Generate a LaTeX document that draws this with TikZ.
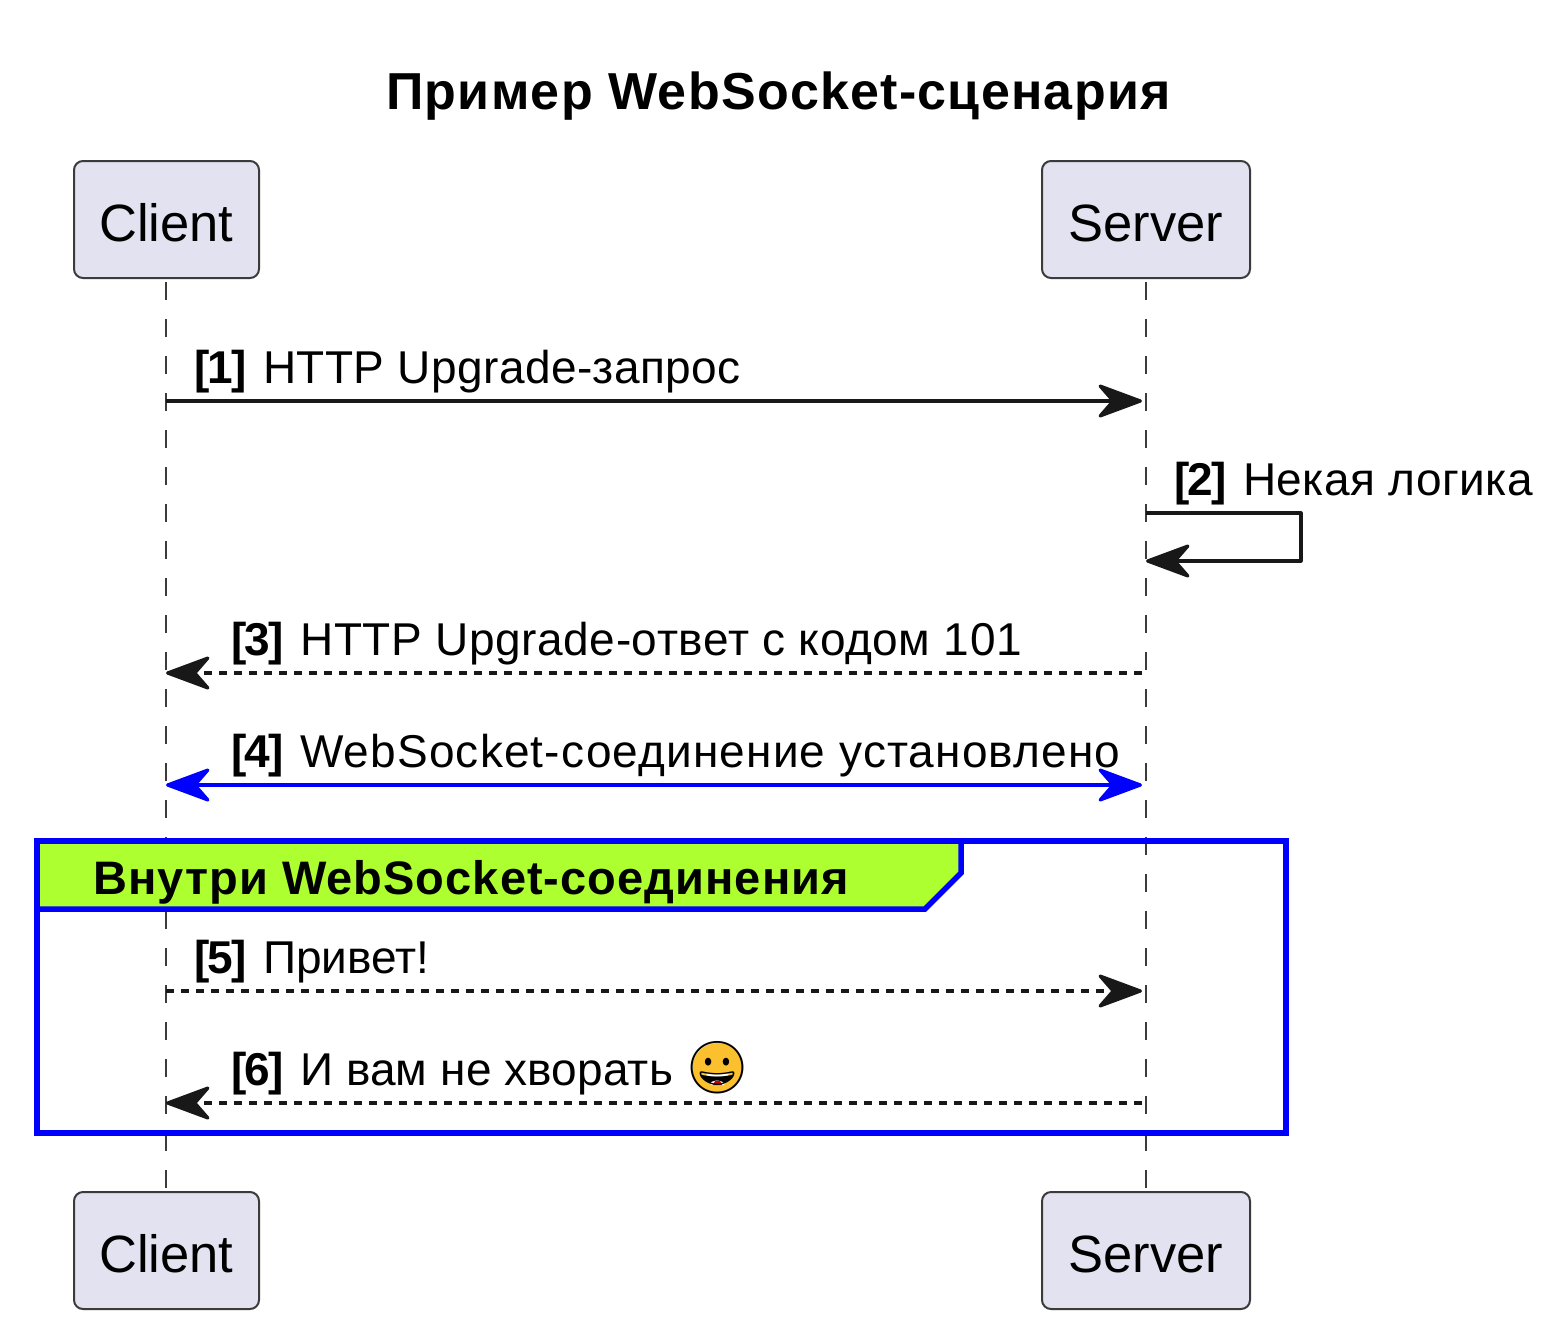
\documentclass[tikz,border=0pt]{standalone}
\usepackage{fontspec}
\setmainfont{Liberation Sans}
\newfontfamily\emojifont{Noto Emoji}
\usetikzlibrary{arrows.meta, positioning}

\definecolor{actorfill}{HTML}{E2E2F0}
\definecolor{actorline}{HTML}{181818}
\definecolor{groupfill}{HTML}{ADFF2F}
\definecolor{smileyfill}{HTML}{FBC02D}

\newcommand{\msgno}[1]{\makebox[69pt][l]{\bfseries\addfontfeature{LetterSpace=-3.5}[#1]}}

\tikzset{
  actor/.style={draw=actorline!85,fill=actorfill,line width=2pt,rounded corners=9pt,
    minimum height=117pt,inner sep=0pt,text height=43pt,text depth=0pt,
    font=\fontsize{52.5}{60}\selectfont},
  lifeline/.style={draw=actorline!85,line width=1.8pt,dash pattern=on 18pt off 19pt},
  msgtext/.style={anchor=base west,inner sep=0pt,font=\fontsize{46}{55}\selectfont},
  msg/.style={draw=actorline,line width=3.2pt},
  tipend/.style={-{Stealth[length=50pt,width=37pt,inset=16pt,round]}},
  dashmsg/.style={dash pattern=on 8pt off 7pt},
  groupline/.style={draw=blue,line width=5.5pt}
}

\begin{document}
\begin{tikzpicture}[x=1pt,y=-1pt]
  \useasboundingbox (0,0) rectangle (1560,1330);

  \node [anchor=base,font=\bfseries\fontsize{52}{60}\selectfont\addfontfeature{LetterSpace=2.4}] (title) at (778.5,109) {Пример WebSocket-сценария};

  % participants
  \node [actor,minimum width=185pt] (client)  at (166.5,219.5)  {Client};
  \node [actor,minimum width=208pt] (server)  at (1146,219.5)   {Server};
  \node [actor,minimum width=185pt] (clientb) at (166.5,1250.5) {Client};
  \node [actor,minimum width=208pt] (serverb) at (1146,1250.5)  {Server};

  \coordinate (cl0) at (166,282);
  \coordinate (cl1) at (166,1188);
  \coordinate (sv0) at (1146,282);
  \coordinate (sv1) at (1146,1188);

  \draw [lifeline] (cl0) -- (cl1);
  \draw [lifeline] (sv0) -- (sv1);

  % ends of the messages
  \coordinate (c1) at (166,401);
  \coordinate (s1) at (1142,401);
  \coordinate (s2a) at (1146,513);
  \coordinate (s2b) at (1301,513);
  \coordinate (s2c) at (1301,561);
  \coordinate (s2d) at (1146,561);
  \coordinate (c3) at (166,673);
  \coordinate (s3) at (1142,673);
  \coordinate (c4) at (166,785);
  \coordinate (s4) at (1142,785);
  \coordinate (c5) at (166,991);
  \coordinate (s5) at (1142,991);
  \coordinate (c6) at (166,1103);
  \coordinate (s6) at (1142,1103);

  % group
  \coordinate (gr0) at (37,841);
  \coordinate (gr1) at (1286,1133);
  \draw [groupline,fill=groupfill,line join=miter]
    (37,841) -- (961,841) -- (961,873) -- (925,909) -- (37,909) -- cycle;
  \draw [groupline] (gr0) rectangle (gr1);
  \node [msgtext,font=\bfseries\fontsize{47}{55}\selectfont\addfontfeature{LetterSpace=2.2}] (grouptext) at (93,894) {Внутри WebSocket-соединения};

  % messages
  \draw [msg,tipend] (c1) -- (s1);
  \draw [msg,line join=round,tipend] (s2a) -- (s2b) -- (s2c) -- (s2d);
  \draw [msg,dashmsg,tipend] (s3) -- (c3);
  \draw [msg,draw=blue,fill=blue,{Stealth[length=50pt,width=37pt,inset=16pt,round]}-{Stealth[length=50pt,width=37pt,inset=16pt,round]}] (c4) -- (s4);
  \draw [msg,dashmsg,tipend] (c5) -- (s5);
  \draw [msg,dashmsg,tipend] (s6) -- (c6);

  % labels
  \node [msgtext] (m1) at (194,383)  {\msgno{1}\addfontfeature{LetterSpace=.9}HTTP Upgrade-запрос};
  \node [msgtext] (m2) at (1174,495) {\msgno{2}\addfontfeature{LetterSpace=.9}Некая логика};
  \node [msgtext] (m3) at (231,655)  {\msgno{3}\addfontfeature{LetterSpace=1.3}HTTP Upgrade-ответ с кодом 101};
  \node [msgtext] (m4) at (231,767)  {\msgno{4}\addfontfeature{LetterSpace=2.5}WebSocket-соединение установлено};
  \node [msgtext] (m5) at (194,973)  {\msgno{5}Привет!};
  \node [msgtext] (m6) at (231,1085) {\msgno{6}\addfontfeature{LetterSpace=.3}И вам не хворать};

  % smiley
  \fill [smileyfill] (717.5,1068) circle [radius=25];
  \fill [white] (706,1073) -- (729,1073) -- (724,1085) -- (711,1085) -- cycle;
  \fill [red!80!black] (713,1085) -- (722,1085) -- (720,1081) -- (715,1081) -- cycle;
  \node [inner sep=0pt,font=\emojifont\fontsize{52}{60}\selectfont] (smiley) at (717.5,1068) {😀};
\end{tikzpicture}
\end{document}
